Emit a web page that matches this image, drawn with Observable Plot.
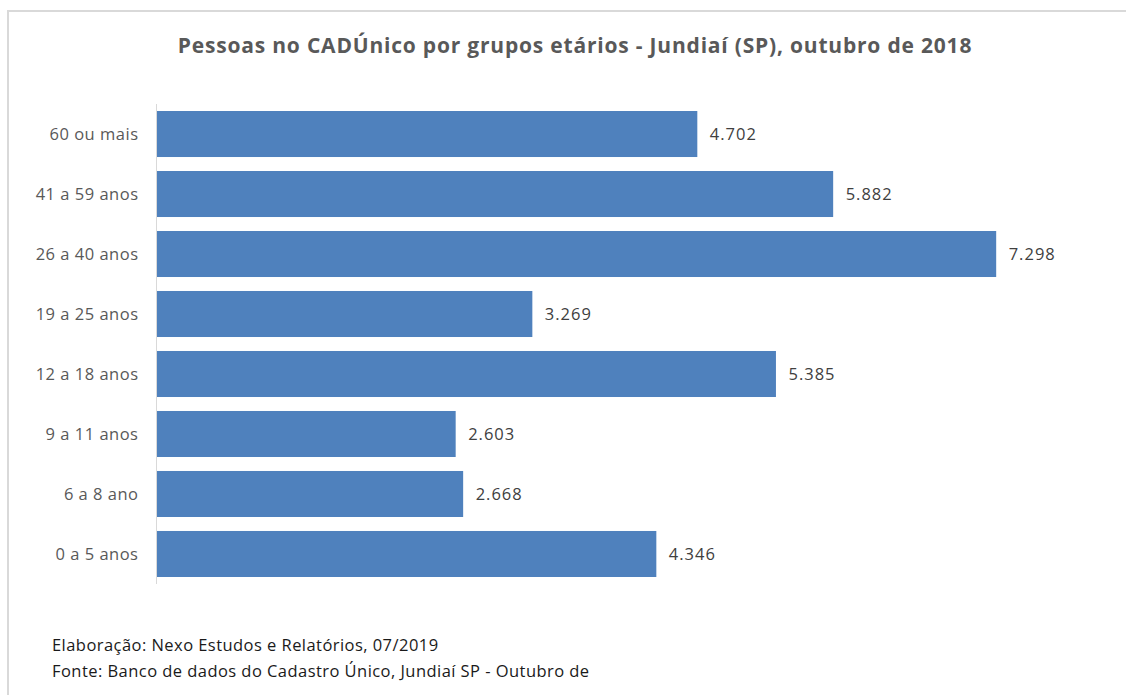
<!DOCTYPE html>
<html><head><meta charset="utf-8">
<script src="https://cdn.jsdelivr.net/npm/d3@7"></script>
<script src="https://cdn.jsdelivr.net/npm/@observablehq/plot@0.6"></script>
<style>
body{margin:0;background:#fff;}
#wrap{position:relative;width:1126px;height:695px;overflow:hidden;font-family:"Open Sans",sans-serif;}
#frame{position:absolute;left:7px;top:10px;width:1200px;height:800px;border-left:2px solid #d9d9d9;border-top:2px solid #d9d9d9;}
#title{position:absolute;left:0;width:1150px;top:31px;text-align:center;font-weight:bold;font-size:21px;color:#595959;letter-spacing:0.8px;}
#cap{position:absolute;left:52px;top:632px;font-size:16.5px;line-height:26px;color:#1a1a1a;letter-spacing:0.45px;}
#chart{position:absolute;left:0;top:0;}
#chart svg g[aria-label="y-axis tick label"] text{letter-spacing:0.5px;}
#chart svg g[aria-label="text"] text{letter-spacing:1px;}
</style></head>
<body><div id="wrap"><div id="frame"></div><div id="chart"></div>
<div id="title">Pessoas no CADÚnico por grupos etários - Jundiaí (SP), outubro de 2018</div>
<div id="cap">Elaboração: Nexo Estudos e Relatórios, 07/2019<br>Fonte: Banco de dados do Cadastro Único, Jundiaí SP - Outubro de</div>
</div>
<script>
const categories = ["60 ou mais","41 a 59 anos","26 a 40 anos","19 a 25 anos","12 a 18 anos","9 a 11 anos","6 a 8 ano","0 a 5 anos"];
const values = [4702,5882,7298,3269,5385,2603,2668,4346];
const data = categories.map((c,i)=>({cat:c, v:values[i]}));
const fmt = d3.formatLocale({decimal:",",thousands:".",grouping:[3],currency:["R$",""]}).format(",d");
const chart = Plot.plot({
  width:1126, height:695,
  marginTop:104, marginBottom:111, marginLeft:156, marginRight:49,
  style:{fontFamily:"Open Sans, sans-serif", fontSize:"16.5px", color:"#595959", background:"transparent"},
  x:{domain:[0,8000], axis:null},
  y:{domain:categories, paddingInner:0.233, paddingOuter:0.1167, round:false, label:null, tickSize:0, tickPadding:18},
  marks:[
    Plot.barX(data,{x:"v", y:"cat", fill:"#4f81bd"}),
    Plot.ruleX([0],{stroke:"#d9d9d9", strokeWidth:1}),
    Plot.text(data,{x:"v", y:"cat", text:d=>fmt(d.v), textAnchor:"start", dx:12, fill:"#404040", fontSize:16.5})
  ]
});
document.getElementById("chart").appendChild(chart);
</script></body></html>
